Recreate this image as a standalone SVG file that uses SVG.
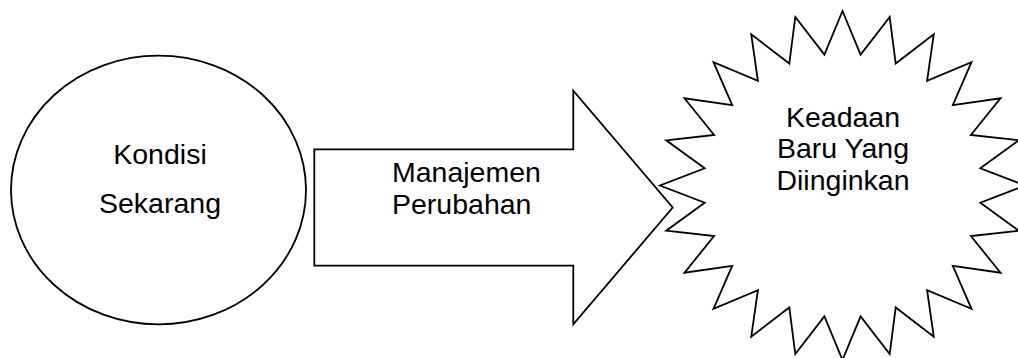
<svg xmlns="http://www.w3.org/2000/svg" width="1018" height="358" viewBox="0 0 1018 358">
  <style>
    .shape { fill: #ffffff; stroke: #000000; stroke-width: 1.8; stroke-linejoin: miter; }
    .lbl { font-family: "Liberation Sans", Arial, sans-serif; font-size: 28.5px; fill: #000000; }
    .mid { text-anchor: middle; }
  </style>
  <rect x="0" y="0" width="1018" height="358" fill="#ffffff"/>

  <g id="kondisi-sekarang">
    <ellipse class="shape" cx="158.5" cy="190" rx="147.5" ry="134.3"/>
    <text class="lbl mid" x="160" y="164">Kondisi</text>
    <text class="lbl mid" x="160" y="213">Sekarang</text>
  </g>

  <g id="manajemen-perubahan">
    <polygon class="shape" points="314.3,149.3 573.3,149.3 573.3,90.7 672.7,207.5 573.3,324.3 573.3,265.7 314.3,265.7"/>
    <text class="lbl" x="392" y="182">Manajemen</text>
    <text class="lbl" x="392" y="214">Perubahan</text>
  </g>

  <g id="keadaan-baru">
    <polygon class="shape" points="842.5,11 860.6,54.6 889.7,16.9 895.7,63.5 933.75,34.4 927.1,80.8 971.5,62.1 952.8,105.1 1000.5,98.25 970.9,135 1018.8,140.3 980.3,168.3 1025,185.5 980.3,202.7 1018.8,230.7 970.9,236 1000.5,272.75 952.8,265.9 971.5,308.9 927.1,290.2 933.75,336.6 895.7,307.5 889.7,354.1 860.6,316.4 842.5,360 824.4,316.4 795.3,354.1 789.3,307.5 751.25,336.6 757.9,290.2 713.5,308.9 732.2,265.9 684.5,272.75 714.1,236 666.2,230.7 704.7,202.7 660,185.5 704.7,168.3 666.2,140.3 714.1,135 684.5,98.25 732.2,105.1 713.5,62.1 757.9,80.8 751.25,34.4 789.3,63.5 795.3,16.9 824.4,54.6"/>
    <text class="lbl mid" x="843" y="126.7">Keadaan</text>
    <text class="lbl mid" x="843" y="158.3">Baru Yang</text>
    <text class="lbl mid" x="843" y="189.8">Diinginkan</text>
  </g>

  <g id="connectors"></g>
</svg>
